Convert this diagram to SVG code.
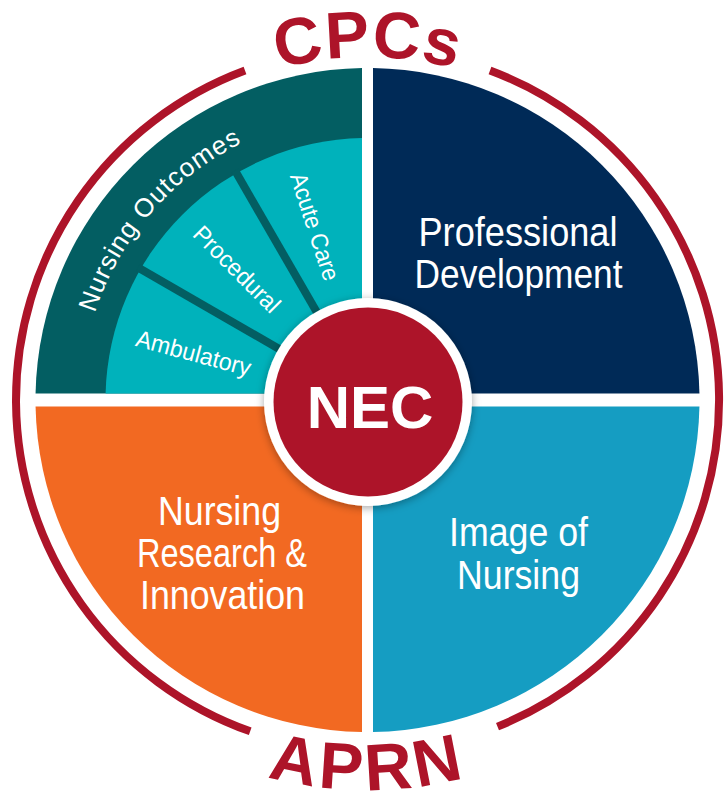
<svg xmlns="http://www.w3.org/2000/svg" width="726" height="792" viewBox="0 0 726 792">
  <defs>
    <style>
      .ring{fill:none;stroke:#AD1429;stroke-width:8}
      .arcText{font-family:"Liberation Sans",Arial,sans-serif;font-weight:bold;font-size:66px;fill:#AD1429}
      .big{font-family:"Liberation Sans",Arial,sans-serif;font-size:41px;fill:#FFFFFF;text-anchor:middle}
      .small{font-family:"Liberation Sans",Arial,sans-serif;font-size:24px;fill:#FFFFFF;text-anchor:middle}
      .divider{stroke:#035E62;stroke-width:8;stroke-linecap:butt}
    </style>
    <path id="topArc" d="M 70.45 228.5 A 343 343 0 0 1 664.55 228.5"/>
    <path id="bottomArc" d="M 29.8 595 A 390 390 0 0 0 705.2 595"/>
    <path id="outcomesArc" d="M 81.5 400 A 286 286 0 0 1 367.5 114"/>
    <filter id="shadow" x="-20%" y="-20%" width="140%" height="140%">
      <feDropShadow dx="0" dy="2" stdDeviation="4" flood-color="#000000" flood-opacity="0.35"/>
    </filter>
  </defs>

  <rect width="726" height="792" fill="#FFFFFF"/>

  <g id="outer-ring">
    <path class="ring" d="M 490.0 70.5 A 351.5 351.5 0 0 1 497.5 726.6"/>
    <path class="ring" d="M 250.2 731.3 A 351.5 351.5 0 0 1 245.0 70.5"/>
    <text class="arcText" letter-spacing="1"><textPath href="#topArc" startOffset="50%" text-anchor="middle">CPCs</textPath></text>
    <text class="arcText" letter-spacing="4"><textPath href="#bottomArc" startOffset="50%" text-anchor="middle">APRN</textPath></text>
  </g>

  <g id="nursing-outcomes">
    <path fill="#035E62" d="M 362 393.5 L 35.56 393.5 A 332 332 0 0 1 362 68.05 Z"/>
    <path fill="#00B2BB" d="M 362 393.5 L 105.58 393.5 A 262 262 0 0 1 362 138.06 Z"/>
    <text font-family="Liberation Sans, Arial, sans-serif" font-size="26" fill="#FFFFFF" letter-spacing="1"><textPath href="#outcomesArc" startOffset="204" text-anchor="middle">Nursing Outcomes</textPath></text>
  </g>

  <g id="dividers">
    <line class="divider" x1="138.0" y1="267.5" x2="289.6" y2="355.0"/>
    <line class="divider" x1="235.0" y1="170.5" x2="322.5" y2="322.1"/>
  </g>

  <g id="ambulatory">
    <text class="small" transform="translate(191.5 361.1) rotate(15)" textLength="118" lengthAdjust="spacingAndGlyphs">Ambulatory</text>
  </g>
  <g id="procedural">
    <text class="small" transform="translate(231 275) rotate(45)" textLength="112" lengthAdjust="spacingAndGlyphs">Procedural</text>
  </g>
  <g id="acute-care">
    <text class="small" transform="translate(307 229.2) rotate(72)" textLength="112" lengthAdjust="spacingAndGlyphs">Acute Care</text>
  </g>

  <g id="professional-development">
    <path fill="#002A57" d="M 373 393.5 L 373 68.05 A 332 332 0 0 1 699.44 393.5 Z"/>
    <text class="big" x="518" y="246" textLength="199" lengthAdjust="spacingAndGlyphs">Professional</text>
    <text class="big" x="518.5" y="288" textLength="208" lengthAdjust="spacingAndGlyphs">Development</text>
  </g>

  <g id="image-of-nursing">
    <path fill="#159DC2" d="M 373 406.5 L 699.44 406.5 A 332 332 0 0 1 373 731.95 Z"/>
    <text class="big" x="518.5" y="546" textLength="139" lengthAdjust="spacingAndGlyphs">Image of</text>
    <text class="big" x="518.5" y="589" textLength="123" lengthAdjust="spacingAndGlyphs">Nursing</text>
  </g>

  <g id="nursing-research-innovation">
    <path fill="#F26922" d="M 362 406.5 L 362 731.95 A 332 332 0 0 1 35.56 406.5 Z"/>
    <text class="big" x="219.5" y="525" textLength="123" lengthAdjust="spacingAndGlyphs">Nursing</text>
    <text class="big" x="222" y="567" textLength="170" lengthAdjust="spacingAndGlyphs">Research &amp;</text>
    <text class="big" x="222.5" y="609" textLength="165" lengthAdjust="spacingAndGlyphs">Innovation</text>
  </g>

  <g id="nec">
    <circle cx="368" cy="402" r="104" fill="#FFFFFF" filter="url(#shadow)"/>
    <circle cx="368" cy="402" r="94.5" fill="#AD1429"/>
    <text x="370" y="428" font-family="Liberation Sans, Arial, sans-serif" font-weight="bold" font-size="60" fill="#FFFFFF" text-anchor="middle">NEC</text>
  </g>
</svg>
